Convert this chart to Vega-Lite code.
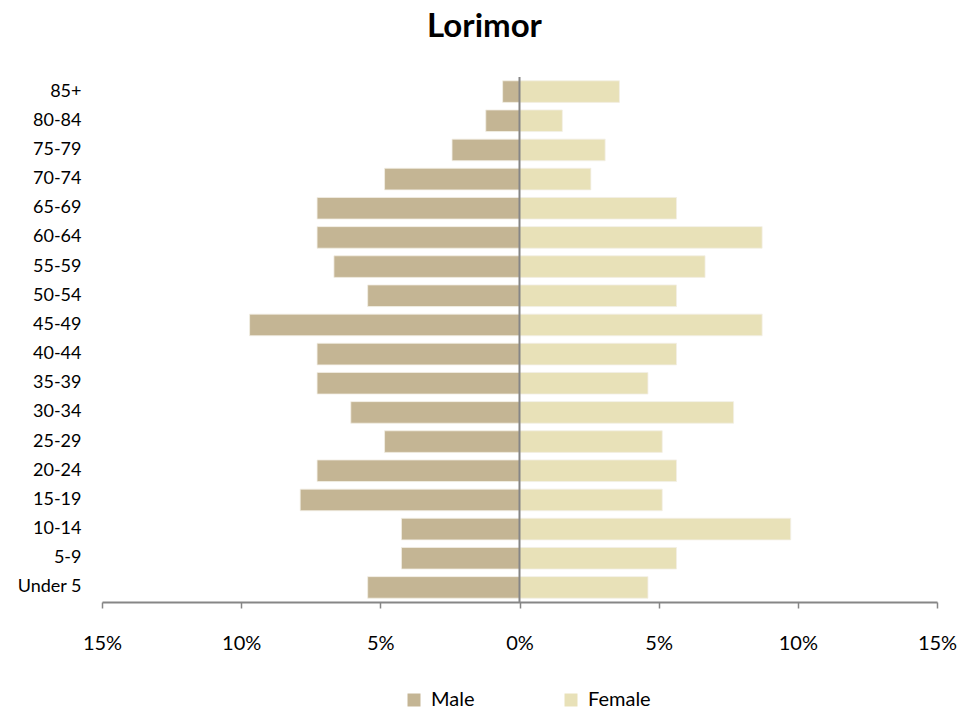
{
  "$schema": "https://vega.github.io/schema/vega-lite/v6.json",
  "width": 835,
  "height": 525,
  "autosize": {"type": "none"},
  "padding": {"left": 102, "top": 77, "right": 42, "bottom": 111},
  "background": "white",
  "title": {
    "text": "Lorimor",
    "font": "Lato",
    "fontSize": 33,
    "fontWeight": "bold",
    "color": "#000000",
    "anchor": "middle",
    "dx": -35,
    "offset": 32
  },
  "config": {
    "view": {"stroke": null},
    "font": "Lato"
  },
  "data": {
    "values": [
      {"age": "85+", "sex": "Male", "pct": -0.606},
      {"age": "80-84", "sex": "Male", "pct": -1.212},
      {"age": "75-79", "sex": "Male", "pct": -2.424},
      {"age": "70-74", "sex": "Male", "pct": -4.848},
      {"age": "65-69", "sex": "Male", "pct": -7.273},
      {"age": "60-64", "sex": "Male", "pct": -7.273},
      {"age": "55-59", "sex": "Male", "pct": -6.667},
      {"age": "50-54", "sex": "Male", "pct": -5.455},
      {"age": "45-49", "sex": "Male", "pct": -9.697},
      {"age": "40-44", "sex": "Male", "pct": -7.273},
      {"age": "35-39", "sex": "Male", "pct": -7.273},
      {"age": "30-34", "sex": "Male", "pct": -6.061},
      {"age": "25-29", "sex": "Male", "pct": -4.848},
      {"age": "20-24", "sex": "Male", "pct": -7.273},
      {"age": "15-19", "sex": "Male", "pct": -7.879},
      {"age": "10-14", "sex": "Male", "pct": -4.242},
      {"age": "5-9", "sex": "Male", "pct": -4.242},
      {"age": "Under 5", "sex": "Male", "pct": -5.455},
      {"age": "85+", "sex": "Female", "pct": 3.590},
      {"age": "80-84", "sex": "Female", "pct": 1.538},
      {"age": "75-79", "sex": "Female", "pct": 3.077},
      {"age": "70-74", "sex": "Female", "pct": 2.564},
      {"age": "65-69", "sex": "Female", "pct": 5.641},
      {"age": "60-64", "sex": "Female", "pct": 8.718},
      {"age": "55-59", "sex": "Female", "pct": 6.667},
      {"age": "50-54", "sex": "Female", "pct": 5.641},
      {"age": "45-49", "sex": "Female", "pct": 8.718},
      {"age": "40-44", "sex": "Female", "pct": 5.641},
      {"age": "35-39", "sex": "Female", "pct": 4.615},
      {"age": "30-34", "sex": "Female", "pct": 7.692},
      {"age": "25-29", "sex": "Female", "pct": 5.128},
      {"age": "20-24", "sex": "Female", "pct": 5.641},
      {"age": "15-19", "sex": "Female", "pct": 5.128},
      {"age": "10-14", "sex": "Female", "pct": 9.744},
      {"age": "5-9", "sex": "Female", "pct": 5.641},
      {"age": "Under 5", "sex": "Female", "pct": 4.615}
    ]
  },
  "layer": [
    {
      "mark": {"type": "bar", "stroke": "#F2EFE4", "strokeWidth": 0.8},
      "encoding": {
        "y": {
          "field": "age",
          "type": "nominal",
          "sort": ["85+", "80-84", "75-79", "70-74", "65-69", "60-64", "55-59", "50-54", "45-49", "40-44", "35-39", "30-34", "25-29", "20-24", "15-19", "10-14", "5-9", "Under 5"],
          "scale": {"paddingInner": 0.26, "paddingOuter": 0.13},
          "axis": {
            "title": null,
            "domain": false,
            "ticks": false,
            "tickSize": 0,
            "labelFont": "Lato",
            "labelFontSize": 18,
            "labelColor": "#000000",
            "labelPadding": 21
          }
        },
        "x": {
          "field": "pct",
          "type": "quantitative",
          "scale": {"domain": [-15, 15], "nice": false},
          "axis": {
            "title": null,
            "values": [-15, -10, -5, 0, 5, 10, 15],
            "labelExpr": "abs(datum.value) + '%'",
            "grid": false,
            "domainColor": "#868686",
            "domainWidth": 2,
            "tickColor": "#868686",
            "tickWidth": 1.5,
            "tickSize": 6,
            "labelFont": "Lato",
            "labelFontSize": 20,
            "labelColor": "#000000",
            "labelPadding": 25,
            "labelFlush": false
          }
        },
        "color": {
          "field": "sex",
          "type": "nominal",
          "scale": {"domain": ["Male", "Female"], "range": ["#C4B594", "#E8E1B8"]},
          "legend": {
            "title": null,
            "orient": "none",
            "direction": "horizontal",
            "legendX": 302,
            "legendY": 613,
            "symbolType": "square",
            "symbolSize": 169,
            "symbolStrokeWidth": 0,
            "labelFont": "Lato",
            "labelFontSize": 20,
            "labelColor": "#000000",
            "labelOffset": 7,
            "columnPadding": 86,
            "padding": 0
          }
        }
      }
    },
    {
      "data": {"values": [{"zero": 0}]},
      "mark": {"type": "rule", "color": "#868686", "strokeWidth": 2},
      "encoding": {
        "x": {"field": "zero", "type": "quantitative"}
      }
    }
  ]
}
